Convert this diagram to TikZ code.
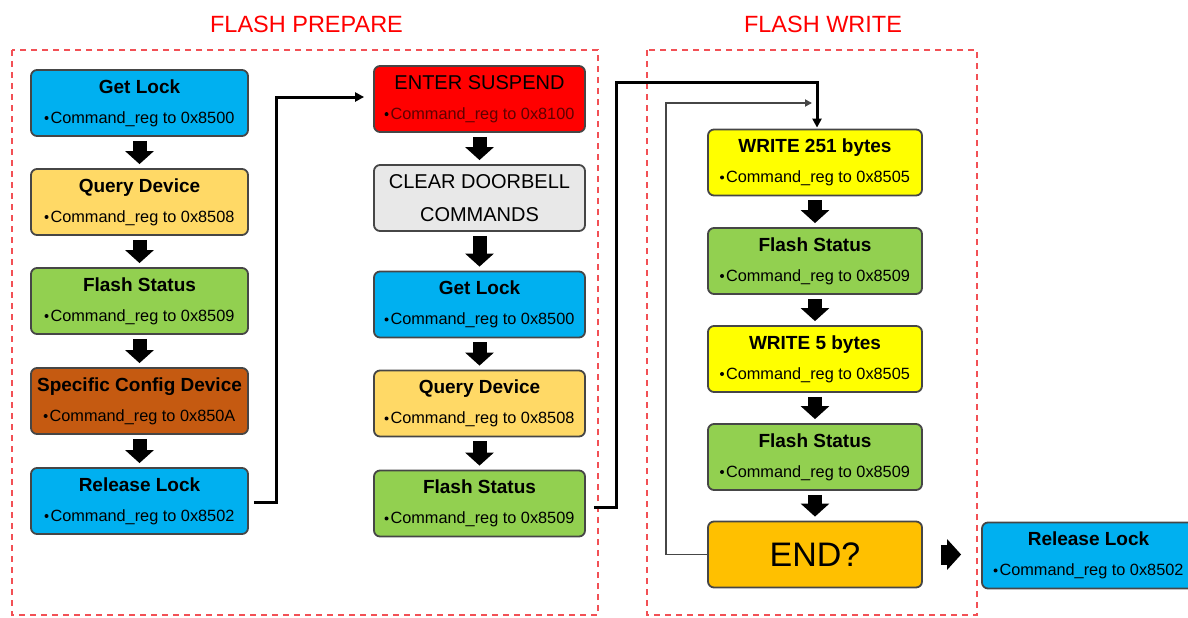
\documentclass[tikz,border=0pt]{standalone}
\usepackage{fontspec}
\setmainfont{Liberation Sans}
\usetikzlibrary{arrows.meta}
\definecolor{cblue}{RGB}{0,176,240}
\definecolor{cquery}{RGB}{255,217,102}
\definecolor{cgreen}{RGB}{146,208,80}
\definecolor{cbrown}{RGB}{197,90,17}
\definecolor{cred}{RGB}{255,0,0}
\definecolor{cgray}{RGB}{232,232,232}
\definecolor{cyellow}{RGB}{255,255,0}
\definecolor{corange}{RGB}{255,192,0}
\definecolor{cframe}{RGB}{242,80,85}
\definecolor{cedge}{RGB}{70,70,70}
\definecolor{cdarkred}{RGB}{95,0,0}
\newcommand\bul{\raisebox{3.2pt}{\tikz\fill[black] (0,0) circle (2pt);}\hspace{2pt}}
\newcommand\ttl[1]{{\fontsize{19}{30}\selectfont\bfseries #1}}
\begin{document}
\begin{tikzpicture}[x=1pt,y=-1pt,
  box/.style={draw=cedge, line width=1.8pt, rounded corners=6pt,
    minimum height=66pt, inner sep=0pt, align=center,
    font=\fontsize{16.3}{30}\selectfont},
  lbox/.style={box, minimum width=217pt},
  mbox/.style={box, minimum width=211pt},
  rbox/.style={box, minimum width=214pt},
  frame/.style={draw=cframe, line width=2pt, dash pattern=on 6pt off 5pt},
  heading/.style={text=cred, font=\fontsize{23.5}{23.5}\selectfont},
  blk/.style={line width=14pt, -{Triangle[width=28pt,length=13pt]},
    shorten <=4pt, shorten >=4pt},
  conn/.style={line width=3pt, -{Triangle[length=9pt,width=9pt]}},
  loopback/.style={draw=cedge, line width=1.8pt, -{Triangle[length=7pt,width=7pt]}}
]
\useasboundingbox (0,0) rectangle (1188,618);

% section frames and headings
\draw[frame] (12,50) rectangle (598,615);
\draw[frame] (647,50) rectangle (977,615);
\node[heading] (hprep) at (306.5,24) {FLASH PREPARE};
\node[heading] (hwrite) at (823,24) {FLASH WRITE};

% first column
\node[lbox, fill=cblue]  (gl1) at (139.5,103) {\ttl{Get Lock}\\\bul Command\_reg to 0x8500};
\node[lbox, fill=cquery] (qd1) at (139.5,202) {\ttl{Query Device}\\\bul Command\_reg to 0x8508};
\node[lbox, fill=cgreen] (fs1) at (139.5,301) {\ttl{Flash Status}\\\bul Command\_reg to 0x8509};
\node[lbox, fill=cbrown] (sc1) at (139.5,401) {\ttl{Specific Config Device}\\\bul Command\_reg to 0x850A};
\node[lbox, fill=cblue]  (rl1) at (139.5,501) {\ttl{Release Lock}\\\bul Command\_reg to 0x8502};

% second column
\node[mbox, fill=cred] (es) at (479.5,99)
  {{\fontsize{20}{30}\selectfont ENTER SUSPEND}\\\textcolor{cdarkred}{\bul Command\_reg to 0x8100}};
\node[mbox, fill=cgray, font=\fontsize{20}{33}\selectfont] (cd) at (479.5,198)
  {CLEAR DOORBELL\\COMMANDS};
\node[mbox, fill=cblue]  (gl2) at (479.5,304.5) {\ttl{Get Lock}\\\bul Command\_reg to 0x8500};
\node[mbox, fill=cquery] (qd2) at (479.5,403.5) {\ttl{Query Device}\\\bul Command\_reg to 0x8508};
\node[mbox, fill=cgreen] (fs2) at (479.5,503.5) {\ttl{Flash Status}\\\bul Command\_reg to 0x8509};

% third column
\node[rbox, fill=cyellow] (w1)  at (815,162.5) {\ttl{WRITE 251 bytes}\\\bul Command\_reg to 0x8505};
\node[rbox, fill=cgreen]  (fs3) at (815,261) {\ttl{Flash Status}\\\bul Command\_reg to 0x8509};
\node[rbox, fill=cyellow] (w2)  at (815,359) {\ttl{WRITE 5 bytes}\\\bul Command\_reg to 0x8505};
\node[rbox, fill=cgreen]  (fs4) at (815,457) {\ttl{Flash Status}\\\bul Command\_reg to 0x8509};
\node[rbox, fill=corange, font=\fontsize{34}{34}\selectfont] (endq) at (815,554.5) {END?};
\node[box, minimum width=213pt, fill=cblue] (rl2) at (1088.5,555.5)
  {\ttl{Release Lock}\\\bul Command\_reg to 0x8502};

% block arrows inside the columns
\foreach \a/\b in {gl1/qd1, qd1/fs1, fs1/sc1, sc1/rl1,
                   es/cd, cd/gl2, gl2/qd2, qd2/fs2,
                   w1/fs3, fs3/w2, w2/fs4, fs4/endq}
  \draw[blk] (\a.south) -- (\b.north);
\draw[line width=20pt, -{Triangle[width=30pt,length=14pt]},
      shorten <=18pt, shorten >=20pt] (endq.east) -- (endq.east -| rl2.west);

% links between the columns
\coordinate (j1) at (276,97);
\draw[conn, shorten <=5pt, shorten >=9pt] ([yshift=-1pt]rl1.east) -| (j1) -- (es.west |- j1);
\coordinate (j2) at (616,82);
\draw[conn, shorten <=8pt, shorten >=1pt] ([yshift=-4pt]fs2.east) -| (j2) -| ([xshift=2pt]w1.north);

% loop back from the END? test
\coordinate (j3) at (666,103);
\coordinate (j4) at (812,103);
\draw[loopback] (endq.west) -| (j3) -- (j4);
\end{tikzpicture}
\end{document}
